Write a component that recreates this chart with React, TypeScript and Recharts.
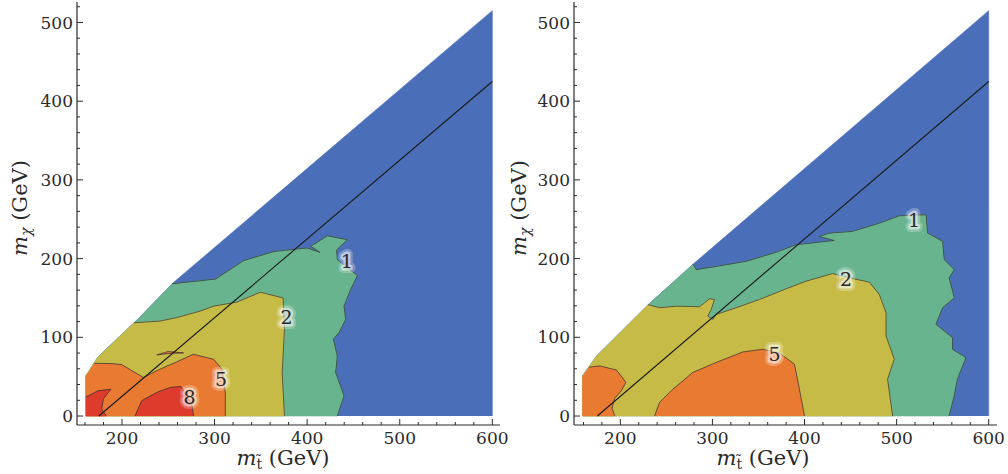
import React from "react";
import { ScatterChart, Scatter, XAxis, YAxis } from "recharts";

const FONT = "DejaVu Serif, Liberation Serif, serif";
const INK = "#2a2a2a";

const BLUE = "#4a6fb8";
const GREEN = "#67b48e";
const YELLOW = "#c7bb47";
const ORANGE = "#e97a32";
const RED = "#dd3b2b";

const xTicks = [160, 180, 200, 220, 240, 260, 280, 300, 320, 340, 360, 380, 400, 420, 440, 460, 480, 500, 520, 540, 560, 580, 600];
const yTicks = [0, 20, 40, 60, 80, 100, 120, 140, 160, 180, 200, 220, 240, 260, 280, 300, 320, 340, 360, 380, 400, 420, 440, 460, 480, 500, 520];
const yDomain: [number, number] = [-11.4, 526];

// m_chi = m_stop - m_top
const diagonal = [[175, 0], [600, 425]];

// ---- left panel ----
const domainL = [[161, 0], [161, 51], [174, 75], [217, 123], [255, 169], [600, 515], [600, 0]];
const oneL = [[254, 168], [301, 174], [331.5, 197.5], [364, 209], [400, 213.5], [413.8, 208], [403.7, 215.6], [412.7, 222], [421.8, 229], [443.5, 224], [431.8, 211], [432.6, 198.7], [454.3, 178.5], [447, 160.8], [439.8, 139.6], [441.6, 122.8], [434.4, 106], [428.3, 97.5], [432.6, 76.3], [430.8, 55.3], [439.8, 25.7], [432.6, 0]];
const oneCloseL = [[161, 0], [161, 51], [174, 75], [217, 123]];
const twoL = [[213, 118.5], [241, 120.6], [259, 125], [284.5, 133.3], [299, 139.6], [324, 144.7], [349.5, 157.3], [374, 150], [375.5, 110], [373, 55], [375.5, 0]];
const twoCloseL = [[161, 0], [161, 51], [174, 75]];
const fiveL = [[170, 67], [187, 66.7], [199.7, 65.4], [223, 49], [241, 59.5], [259, 68.7], [277, 78.5], [299, 72], [308, 59.5], [311.6, 30], [311.6, 0]];
const fiveCloseL = [[161, 0], [161, 51]];
const fiveIslandL = [[237.6, 77.6], [250, 81.9], [266.4, 80.2], [252, 79.7], [237.6, 77.6]];
const eightAL = [[161, 24], [174, 32], [188, 34], [180, 22], [178, 9], [183, 0]];
const eightACloseL = [[161, 0]];
const eightBL = [[214, 0], [221.3, 19.4], [237.6, 30], [252, 36.3], [263.6, 37.6], [270, 25.7], [275.5, 13], [277.3, 0]];
const labelsL = [
  { x: 442.7, y: 196.6, t: "1" },
  { x: 377.7, y: 125, t: "2" },
  { x: 307, y: 47, t: "5" },
  { x: 273, y: 23.6, t: "8" },
];

// ---- right panel ----
const domainR = [[159, 0], [159, 51], [174, 76], [231.6, 143], [281, 195], [600, 515], [600, 0]];
const oneR = [[279, 193], [282.4, 186], [304, 190], [336.7, 196.6], [369, 208], [391, 217.7], [432.2, 223], [416, 228], [426.8, 232.3], [452.3, 234.6], [481.2, 245], [503, 254.4], [532, 255.7], [533.6, 232.5], [550, 222], [551.7, 198.7], [562.6, 186], [557, 175.6], [562.6, 150.2], [550, 137.6], [542.7, 116.5], [560.7, 99.6], [560.7, 84.8], [575.3, 74.3], [566, 46.8], [562.6, 25.7], [557, 0]];
const oneCloseR = [[159, 0], [159, 51], [174, 76], [231.6, 143]];
const twoR = [[230, 141.5], [242.6, 137.6], [260.7, 139.6], [286, 138.8], [296.9, 149], [302.3, 148], [298.7, 135.4], [295, 127], [300.4, 122.8], [304, 129], [325.8, 137.6], [351, 148], [380, 161.6], [401.7, 171.3], [430.6, 181], [441.5, 177.6], [470.4, 170], [481.2, 154.4], [488.5, 131.3], [488.5, 101.6], [497.5, 72.2], [490.2, 46.8], [495.7, 0]];
const twoCloseR = [[159, 0], [159, 51], [174, 76]];
const fiveAR = [[166, 62], [177.5, 63.7], [195.7, 58.5], [203.5, 46.8], [206, 42.6], [201, 32], [193.8, 22.5], [191, 10], [194, 0]];
const fiveACloseR = [[159, 0], [159, 51]];
const fiveBR = [[237.2, 0], [242.6, 17.3], [257, 34], [278.7, 55.3], [304, 68], [333, 81.4], [354.7, 84.8], [372.8, 80], [389, 65.8], [393.5, 40], [400, 0]];
const labelsR = [
  { x: 519, y: 249, t: "1" },
  { x: 445, y: 174, t: "2" },
  { x: 367.4, y: 78.5, t: "5" },
];

type Pt = { x: number; y: number };
type Lbl = { x: number; y: number; t: string };
const pts = (a: number[][]): Pt[] => a.map(([x, y]) => ({ x, y }));

const noDot = () => <g />;

function tickRenderer(side: "bottom" | "top" | "left" | "right") {
  return (props: any) => {
    const { x, y, payload } = props;
    const v = payload.value as number;
    const major = v % 100 === 0;
    const len = major ? 6 : 3;
    let tl;
    if (side === "bottom") tl = <line x1={x} y1={y} x2={x} y2={y - len} />;
    else if (side === "top") tl = <line x1={x} y1={y} x2={x} y2={y + len} />;
    else if (side === "left") tl = <line x1={x} y1={y} x2={x + len} y2={y} />;
    else tl = <line x1={x} y1={y} x2={x - len} y2={y} />;
    return (
      <g>
        <g stroke={INK} strokeWidth={1}>{tl}</g>
        {major && side === "bottom" && (
          <text x={x} y={y + 18.5} textAnchor="middle" fontFamily={FONT} fontSize={17} fill={INK}>
            {v}
          </text>
        )}
        {major && side === "left" && (
          <text x={x - 4} y={y} dy="0.36em" textAnchor="end" fontFamily={FONT} fontSize={17} fill={INK}>
            {v}
          </text>
        )}
      </g>
    );
  };
}

const LabelShape = (p: any) => {
  const { cx, cy, payload } = p;
  return (
    <g fontFamily={FONT} fontSize={19} textAnchor="middle">
      <text x={cx} y={cy} dy="0.36em" fill="none" stroke="#fff" strokeOpacity={0.25} strokeWidth={10} strokeLinejoin="round">
        {payload.t}
      </text>
      <text x={cx} y={cy} dy="0.36em" fill="none" stroke="#fff" strokeOpacity={0.5} strokeWidth={5} strokeLinejoin="round">
        {payload.t}
      </text>
      <text x={cx} y={cy} dy="0.36em" fill={INK}>
        {payload.t}
      </text>
    </g>
  );
};

type PanelProps = {
  left: number;
  width: number;
  xDomain: [number, number];
  regions: { fill: string; data: Pt[] }[];
  contours: Pt[][];
  labels: Lbl[];
  xTitle: number;
  yTitle: number;
};

function Panel({ left, width, xDomain, regions, contours, labels, xTitle, yTitle }: PanelProps) {
  const titleStyle: React.CSSProperties = {
    position: "absolute",
    fontFamily: FONT,
    fontSize: 21,
    color: INK,
    whiteSpace: "nowrap",
    lineHeight: "22px",
  };
  return (
    <>
      <div style={{ position: "absolute", left, top: 0 }}>
        <ScatterChart width={width} height={474} margin={{ top: 2, right: width - 423 - 77, bottom: 0, left: 0 }}>
          <XAxis
            type="number"
            dataKey="x"
            domain={xDomain}
            ticks={xTicks}
            interval={0}
            allowDataOverflow
            height={49}
            tickSize={0}
            tickMargin={0}
            tickLine={false}
            axisLine={{ stroke: INK, strokeWidth: 1.2 }}
            tick={tickRenderer("bottom")}
          />
          <XAxis
            xAxisId="t"
            orientation="top"
            type="number"
            dataKey="x"
            domain={xDomain}
            ticks={xTicks}
            interval={0}
            allowDataOverflow
            height={0}
            tickSize={0}
            tickMargin={0}
            tickLine={false}
            axisLine={{ stroke: INK, strokeWidth: 1.2 }}
            tick={tickRenderer("top")}
          />
          <YAxis
            type="number"
            dataKey="y"
            domain={yDomain}
            ticks={yTicks}
            interval={0}
            allowDataOverflow
            width={77}
            tickSize={0}
            tickMargin={0}
            tickLine={false}
            axisLine={{ stroke: INK, strokeWidth: 1.2 }}
            tick={tickRenderer("left")}
          />
          <YAxis
            yAxisId="r"
            orientation="right"
            type="number"
            dataKey="y"
            domain={yDomain}
            ticks={yTicks}
            interval={0}
            allowDataOverflow
            width={0}
            tickSize={0}
            tickMargin={0}
            tickLine={false}
            axisLine={{ stroke: INK, strokeWidth: 1.2 }}
            tick={tickRenderer("right")}
          />
          {regions.map((r, i) => (
            <Scatter
              key={"reg" + i}
              data={r.data}
              fill={r.fill}
              line={{ fill: r.fill, stroke: r.fill, strokeWidth: 0.6 }}
              shape={noDot}
              isAnimationActive={false}
            />
          ))}
          {contours.map((c, i) => (
            <Scatter
              key={"con" + i}
              data={c}
              fill="none"
              line={{ fill: "none", stroke: "#333", strokeWidth: 0.8, strokeOpacity: 0.9 }}
              shape={noDot}
              isAnimationActive={false}
            />
          ))}
          <Scatter
            data={pts(diagonal)}
            fill="none"
            line={{ fill: "none", stroke: "#1a1a1a", strokeWidth: 1.1 }}
            shape={noDot}
            isAnimationActive={false}
          />
          <Scatter data={labels} fill={INK} shape={LabelShape} isAnimationActive={false} />
        </ScatterChart>
      </div>
      <div style={{ ...titleStyle, left: xTitle, top: 461, transform: "translate(-50%, -50%)" }}>
        <i>m</i>
        <sub style={{ fontSize: 14, verticalAlign: "-4px" }}>{"t\u0303"}</sub> (GeV)
      </div>
      <div style={{ ...titleStyle, left: yTitle, top: 208, transform: "translate(-50%, -50%) rotate(-90deg)" }}>
        <i>m</i>
        <sub style={{ fontSize: 14, verticalAlign: "-4px" }}>
          <i>{"\u03c7"}</i>
        </sub>{" "}
        (GeV)
      </div>
    </>
  );
}

export default function App() {
  const regionsL = [
    { fill: BLUE, data: pts(domainL) },
    { fill: GREEN, data: pts([...oneL, ...oneCloseL]) },
    { fill: YELLOW, data: pts([...twoL, ...twoCloseL]) },
    { fill: ORANGE, data: pts([...fiveL, ...fiveCloseL]) },
    { fill: ORANGE, data: pts(fiveIslandL) },
    { fill: RED, data: pts([...eightAL, ...eightACloseL]) },
    { fill: RED, data: pts(eightBL) },
  ];
  const contoursL = [oneL, twoL, fiveL, fiveIslandL, eightAL, eightBL].map(pts);

  const regionsR = [
    { fill: BLUE, data: pts(domainR) },
    { fill: GREEN, data: pts([...oneR, ...oneCloseR]) },
    { fill: YELLOW, data: pts([...twoR, ...twoCloseR]) },
    { fill: ORANGE, data: pts([...fiveAR, ...fiveACloseR]) },
    { fill: ORANGE, data: pts(fiveBR) },
  ];
  const contoursR = [oneR, twoR, fiveAR, fiveBR].map(pts);

  return (
    <div style={{ position: "absolute", left: 0, top: 0, width: 1008, height: 474, background: "#fff", overflow: "hidden" }}>
      <Panel
        left={0}
        width={525}
        xDomain={[151.4, 608.3]}
        regions={regionsL}
        contours={contoursL}
        labels={labelsL}
        xTitle={283}
        yTitle={23}
      />
      <Panel
        left={497}
        width={511}
        xDomain={[149.7, 609]}
        regions={regionsR}
        contours={contoursR}
        labels={labelsR}
        xTitle={763}
        yTitle={522}
      />
    </div>
  );
}
